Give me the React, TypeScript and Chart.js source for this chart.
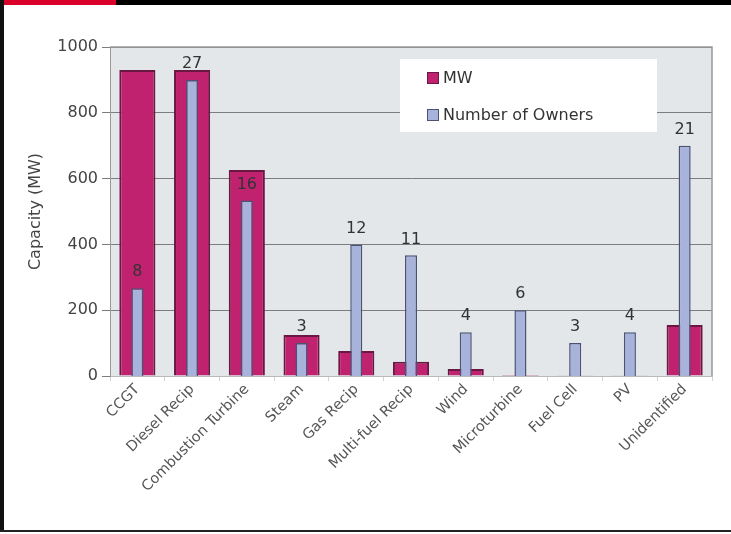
import React, { useEffect, useRef } from "react";
import { Chart, registerables } from "chart.js";

Chart.register(...registerables);

const categories = ["CCGT", "Diesel Recip", "Combustion Turbine", "Steam", "Gas Recip", "Multi-fuel Recip", "Wind", "Microturbine", "Fuel Cell", "PV", "Unidentified"];
const mwValues = [930, 930, 626, 125, 76, 43, 21, 3, 1, 1, 155];
const ownerCounts = [8, 27, 16, 3, 12, 11, 4, 6, 3, 4, 21];
const yTicks = [0, 200, 400, 600, 800, 1000];
const seriesNames = ["MW", "Number of Owners"];

const MW_FILL = "#c0226f";
const MW_BORDER = "#6a1842";
const OWN_FILL = "#a7b3da";
const OWN_BORDER = "#4a5374";
const FONT = "'DejaVu Sans', Verdana, sans-serif";

const decor = {
  id: "decor",
  beforeDraw(chart: any) {
    const { ctx, chartArea: a } = chart;
    ctx.save();
    ctx.fillStyle = "#e4e7ea";
    ctx.fillRect(a.left, a.top, a.right - a.left, a.bottom - a.top);
    ctx.restore();
  },
  afterDraw(chart: any) {
    const { ctx, chartArea: a } = chart;
    ctx.save();
    ctx.strokeStyle = "#9a9a9a";
    ctx.lineWidth = 1.5;
    ctx.beginPath();
    ctx.moveTo(a.left, a.top);
    ctx.lineTo(a.right, a.top);
    ctx.lineTo(a.right, a.bottom);
    ctx.stroke();
    const meta = chart.getDatasetMeta(0);
    ctx.fillStyle = "#333";
    ctx.font = `16px ${FONT}`;
    ctx.textAlign = "center";
    ctx.textBaseline = "middle";
    meta.data.forEach((bar: any, i: number) => {
      ctx.fillText(String(ownerCounts[i]), bar.x, bar.y - 16);
    });
    const lx = 400, ly = 59, lw = 257, lh = 73;
    ctx.fillStyle = "#ffffff";
    ctx.fillRect(lx, ly, lw, lh);
    const items = [
      { name: seriesNames[0], fill: MW_FILL, border: MW_BORDER, y: 78 },
      { name: seriesNames[1], fill: OWN_FILL, border: OWN_BORDER, y: 115 },
    ];
    ctx.textAlign = "left";
    ctx.font = `16px ${FONT}`;
    items.forEach((it) => {
      ctx.fillStyle = it.fill;
      ctx.fillRect(427, it.y - 6, 12, 12);
      ctx.strokeStyle = it.border;
      ctx.lineWidth = 1;
      ctx.strokeRect(427.5, it.y - 5.5, 11, 11);
      ctx.fillStyle = "#333";
      ctx.fillText(it.name, 443, it.y + 1);
    });
    ctx.restore();
  },
};

export default function App() {
  const ref = useRef<HTMLCanvasElement>(null);
  useEffect(() => {
    if (!ref.current) return;
    const chart = new Chart(ref.current, {
      type: "bar",
      data: {
        labels: categories,
        datasets: [
          {
            label: seriesNames[1],
            data: ownerCounts,
            yAxisID: "y2",
            backgroundColor: OWN_FILL,
            borderColor: OWN_BORDER,
            borderWidth: 1.5,
            grouped: false,
            order: 1,
            categoryPercentage: 1,
            barPercentage: 0.22,
          } as any,
          {
            label: seriesNames[0],
            data: mwValues,
            yAxisID: "y",
            backgroundColor: MW_FILL,
            borderColor: MW_BORDER,
            borderWidth: 2,
            grouped: false,
            order: 2,
            categoryPercentage: 1,
            barPercentage: 0.66,
          } as any,
        ],
      },
      options: {
        animation: false,
        responsive: false,
        maintainAspectRatio: false,
        layout: { padding: { top: 47, right: 19, left: 10, bottom: 0 } },
        plugins: { legend: { display: false }, tooltip: { enabled: false } },
        scales: {
          x: {
            offset: true,
            grid: { display: true, drawOnChartArea: false, color: "#cfd2d5", tickLength: 5, offset: true },
            border: { display: true, color: "#b8bbbe" },
            ticks: { color: "#555", font: { family: FONT, size: 14.5 }, minRotation: 45, maxRotation: 45, autoSkip: false, padding: 0 },
            afterFit: (s: any) => { s.height = 158; },
          },
          y: {
            min: 0,
            max: 1000,
            afterBuildTicks: (s: any) => { s.ticks = yTicks.map((v) => ({ value: v })); },
            grid: { color: "#7d7d7d", lineWidth: 1, tickLength: 8 },
            border: { display: true, color: "#9a9a9a" },
            ticks: { color: "#444", font: { family: FONT, size: 16 }, padding: 4, callback: (v: any) => String(v) },
            title: { display: true, text: "Capacity (MW)", color: "#444", font: { family: FONT, size: 16 }, padding: { top: 16, bottom: 0 } },
            afterFit: (s: any) => { s.width = 100; },
          },
          y2: { display: false, min: 0, max: 30 },
        },
      },
      plugins: [decor],
    });
    return () => chart.destroy();
  }, []);

  return (
    <div style={{ position: "fixed", left: 0, top: 0, width: 731, height: 534, background: "#fff", overflow: "hidden" }}>
      <canvas ref={ref} width={731} height={534} style={{ position: "absolute", left: 0, top: 0 }} />
      <div style={{ position: "absolute", left: 0, top: 0, width: 731, height: 5, background: "#000" }} />
      <div style={{ position: "absolute", left: 0, top: 0, width: 116, height: 5, background: "#d9002a" }} />
      <div style={{ position: "absolute", left: 0, top: 0, width: 4, height: 532, background: "#111" }} />
      <div style={{ position: "absolute", left: 0, top: 530, width: 731, height: 2, background: "#222" }} />
    </div>
  );
}
